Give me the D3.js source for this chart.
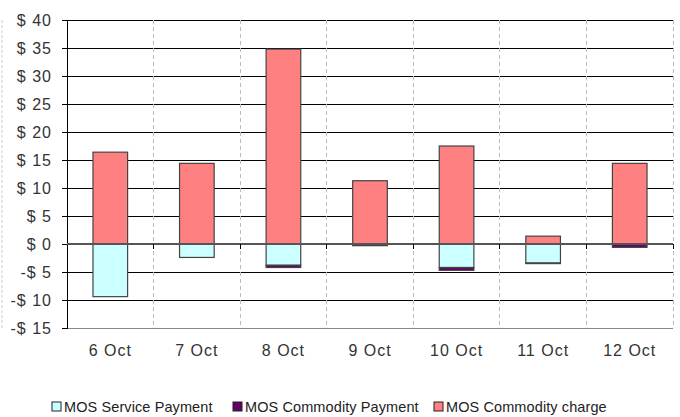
<!DOCTYPE html>
<html lang="en">
<head>
  <meta charset="UTF-8">
  <title>MOS payments</title>
  <script src="https://d3js.org/d3.v7.min.js"></script>
  <style>
    body { margin: 0; background: #fff; font-family: "Liberation Sans", Arial, sans-serif; }
    svg { display: block; }
    .tick-label { font-size: 16px; letter-spacing: 1px; fill: #333; }
    .legend-text { font-size: 14.5px; letter-spacing: 0.1px; fill: #222; }
    .crisp { shape-rendering: crispEdges; }
  </style>
</head>
<body>
  <svg width="680" height="417"></svg>
  <script>
    const days = ["6 Oct", "7 Oct", "8 Oct", "9 Oct", "10 Oct", "11 Oct", "12 Oct"];
    const servicePayment = [-9.4, -2.4, -3.8, -0.2, -4.2, -3.4, -0.1];
    const commodityPayment = [0, 0, -0.4, -0.1, -0.5, -0.1, -0.5];
    const commodityCharge = [16.4, 14.4, 34.8, 11.3, 17.5, 1.4, 14.4];
    const yTicks = [-15, -10, -5, 0, 5, 10, 15, 20, 25, 30, 35, 40];

    const series = [
      { name: "MOS Service Payment", values: servicePayment, color: "#ccffff" },
      { name: "MOS Commodity Payment", values: commodityPayment, color: "#660066" },
      { name: "MOS Commodity charge", values: commodityCharge, color: "#ff8080" }
    ];

    const svg = d3.select("svg");
    const plotLeft = 67, plotRight = 673, plotTop = 20, plotBottom = 328;

    const x = d3.scaleBand().domain(days).range([plotLeft, plotRight]).paddingInner(0.6).paddingOuter(0.3);
    const xb = d3.scaleBand().domain(days).range([plotLeft, plotRight]);
    const y = d3.scaleLinear().domain([-15, 40]).range([plotBottom, plotTop]);

    // faint frame remnant on the left
    svg.append("line")
      .attr("x1", 2).attr("x2", 2).attr("y1", plotTop).attr("y2", plotBottom + 2)
      .attr("stroke", "#ccc").attr("stroke-dasharray", "3,2");

    // horizontal grid
    svg.selectAll(".grid")
      .data(yTicks)
      .enter().append("line")
      .attr("class", "crisp")
      .attr("x1", plotLeft).attr("x2", plotRight)
      .attr("y1", d => y(d)).attr("y2", d => y(d))
      .attr("stroke", d => d === -15 ? "#888" : "#000")
      .attr("stroke-width", 1);

    // vertical dashed category separators
    svg.selectAll(".vgrid")
      .data(days)
      .enter().append("line")
      .attr("class", "crisp")
      .attr("x1", d => xb(d) + xb.bandwidth()).attr("x2", d => xb(d) + xb.bandwidth())
      .attr("y1", plotTop).attr("y2", plotBottom)
      .attr("stroke", "#bbb").attr("stroke-dasharray", "4,3");

    // y axis
    const yAxis = svg.append("g")
      .attr("transform", `translate(${plotLeft},0)`)
      .call(d3.axisLeft(y).tickValues(yTicks).tickSize(5).tickPadding(10)
        .tickFormat(d => d < 0 ? `-$ ${-d}` : `$ ${d}`));
    yAxis.attr("font-family", null).attr("font-size", null);
    yAxis.select(".domain").attr("stroke", "#000").attr("stroke-width", 1.5).attr("class", "domain crisp");
    yAxis.selectAll(".tick line").attr("stroke", "#000").attr("stroke-width", 1).attr("class", "crisp");
    yAxis.selectAll("text").attr("class", "tick-label").attr("fill", null);

    // stacked bars: positives up from zero, negatives down from zero
    days.forEach((day, i) => {
      let pos = 0, neg = 0;
      series.forEach(s => {
        const v = s.values[i];
        if (v === 0) return;
        let y0, y1;
        if (v > 0) { y0 = pos; y1 = pos + v; pos = y1; }
        else { y0 = neg; y1 = neg + v; neg = y1; }
        svg.append("rect")
          .attr("x", x(day))
          .attr("width", x.bandwidth())
          .attr("y", y(Math.max(y0, y1)))
          .attr("height", Math.abs(y(y0) - y(y1)))
          .attr("fill", s.color)
          .attr("stroke", "#444")
          .attr("stroke-width", 1.2);
      });
    });

    // zero line with category ticks
    svg.append("line")
      .attr("class", "crisp")
      .attr("x1", plotLeft).attr("x2", plotRight)
      .attr("y1", y(0)).attr("y2", y(0))
      .attr("stroke", "#555").attr("stroke-width", 1.5);
    svg.selectAll(".xtick")
      .data(days)
      .enter().append("line")
      .attr("class", "crisp")
      .attr("x1", d => xb(d) + xb.bandwidth()).attr("x2", d => xb(d) + xb.bandwidth())
      .attr("y1", y(0)).attr("y2", y(0) + 5)
      .attr("stroke", "#000");

    // category labels
    svg.selectAll(".xlabel")
      .data(days)
      .enter().append("text")
      .attr("class", "tick-label")
      .attr("x", d => xb(d) + xb.bandwidth() / 2)
      .attr("y", 356)
      .attr("text-anchor", "middle")
      .text(d => d);

    // legend
    const legendX = [52, 233, 434];
    const legend = svg.selectAll(".legend")
      .data(series)
      .enter().append("g")
      .attr("transform", (d, i) => `translate(${legendX[i]},407)`);
    legend.append("rect")
      .attr("x", 0).attr("y", -5).attr("width", 9).attr("height", 9)
      .attr("fill", d => d.color).attr("stroke", "#222");
    legend.append("text")
      .attr("class", "legend-text")
      .attr("x", 12).attr("y", 5)
      .text(d => d.name);
  </script>
</body>
</html>
